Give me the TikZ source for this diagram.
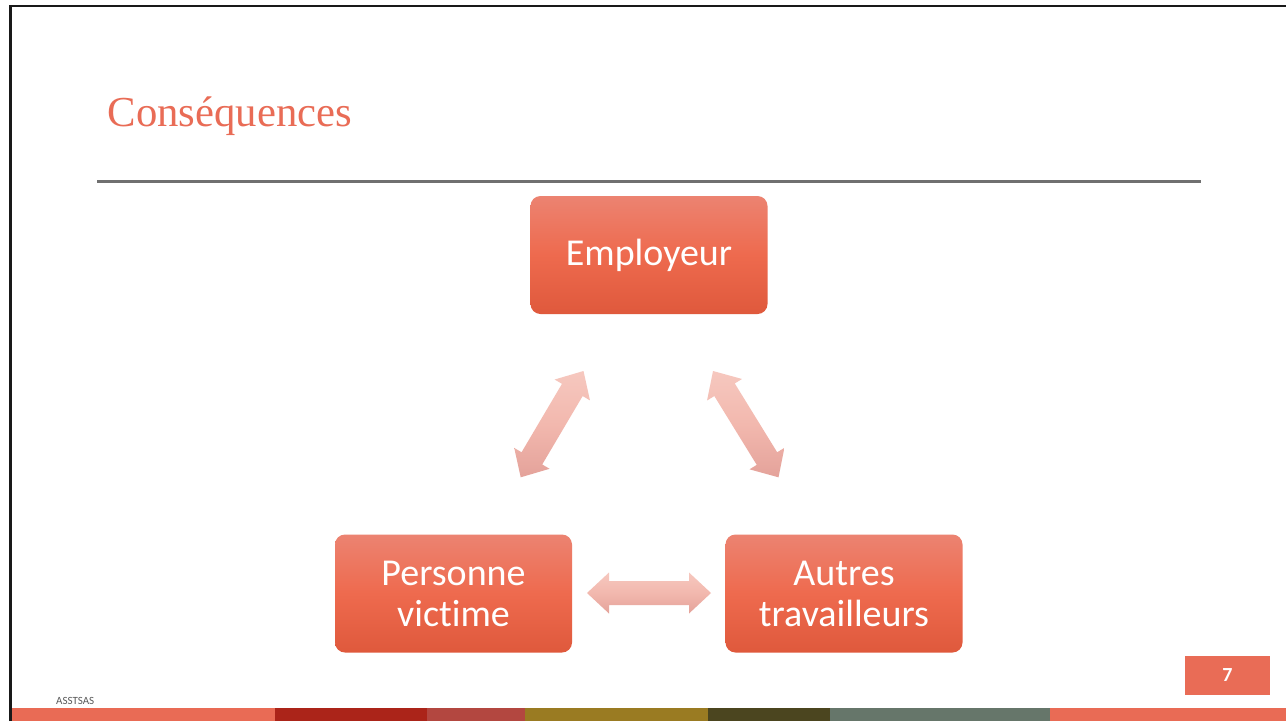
\documentclass[tikz,border=0pt]{standalone}
\usepackage{fontspec}
\setmainfont{Carlito}[RawFeature={-liga}]
\newfontfamily\titlefont{Liberation Serif}
\usetikzlibrary{calc}
\definecolor{accent}{RGB}{233,108,86}
\definecolor{boxtop}{RGB}{236,131,113}
\definecolor{boxmid}{RGB}{238,106,78}
\definecolor{boxbot}{RGB}{223,89,60}
\definecolor{arrtop}{RGB}{246,200,191}
\definecolor{arrmid}{RGB}{242,184,174}
\definecolor{arrbot}{RGB}{228,162,154}
\definecolor{rulegray}{RGB}{112,112,112}
\definecolor{barA}{RGB}{233,107,85}
\definecolor{barB}{RGB}{171,36,25}
\definecolor{barC}{RGB}{179,71,64}
\definecolor{barD}{RGB}{154,123,34}
\definecolor{barE}{RGB}{75,69,31}
\definecolor{barF}{RGB}{102,118,106}
\tikzset{
  box/.style={rounded corners=10pt, minimum width=237pt, minimum height=118pt,
    top color=boxtop, bottom color=boxbot, middle color=boxmid, text=white,
    font=\fontsize{38}{41}\selectfont, align=center, inner sep=0pt},
  arrowfill/.style={top color=arrtop, bottom color=arrbot, middle color=arrmid}
}
\newcommand\dblarrow[2]{%
  \path[arrowfill] (#1)
    -- ($(#1)!22pt!(#2)!20.5pt!90:(#2)$)
    -- ($(#1)!22pt!(#2)!12pt!90:(#2)$)
    -- ($(#2)!22pt!(#1)!12pt!-90:(#1)$)
    -- ($(#2)!22pt!(#1)!20.5pt!-90:(#1)$)
    -- (#2)
    -- ($(#2)!22pt!(#1)!20.5pt!90:(#1)$)
    -- ($(#2)!22pt!(#1)!12pt!90:(#1)$)
    -- ($(#1)!22pt!(#2)!12pt!-90:(#2)$)
    -- ($(#1)!22pt!(#2)!20.5pt!-90:(#2)$)
    -- cycle;}
\begin{document}
\begin{tikzpicture}[x=1pt,y=-1pt]
\useasboundingbox (0,0) rectangle (1286,721);
\fill[white] (0,0) rectangle (1286,721);
% frame
\draw[line width=2.5pt, black!90] (10.5,721) -- (10.5,6) -- (1286,6);
% title
\node[anchor=base west, text=accent, font=\titlefont\fontsize{42.7}{50}\selectfont, inner sep=0pt] (title) at (107.5,126) {Conséquences};
\draw[line width=3pt, rulegray] (97,181.7) -- (1201,181.7);
% boxes
\node[box] (emp) at (649,255) {\raisebox{-2pt}{Employeur}};
\node[box] (vic) at (453.5,593.5) {Personne\\victime};
\node[box] (aut) at (844,593.5) {Autres\\travailleurs};
% arrow ends
\coordinate (l1) at (520.7,477.3);
\coordinate (l2) at (583.5,371);
\coordinate (r1) at (713,371);
\coordinate (r2) at (778.5,477.3);
\coordinate (h1) at (587,593);
\coordinate (h2) at (711,593);
\dblarrow{l1}{l2}
\dblarrow{r1}{r2}
\dblarrow{h1}{h2}
% footer
\node[anchor=base west, font=\fontsize{11}{12}\selectfont, text=black!65, inner sep=0pt] (foot) at (56,704) {ASSTSAS};
\node[fill=accent, minimum width=85pt, minimum height=39pt, inner sep=0pt, text=white, font=\bfseries\fontsize{20}{22}\selectfont] (pg) at (1227.5,675) {7};
\fill[barA] (12,708) rectangle (275,721);
\fill[barB] (275,708) rectangle (427,721);
\fill[barC] (427,708) rectangle (525,721);
\fill[barD] (525,708) rectangle (708,721);
\fill[barE] (708,708) rectangle (830,721);
\fill[barF] (830,708) rectangle (1050,721);
\fill[barA] (1050,708) rectangle (1286,721);
\end{tikzpicture}
\end{document}
